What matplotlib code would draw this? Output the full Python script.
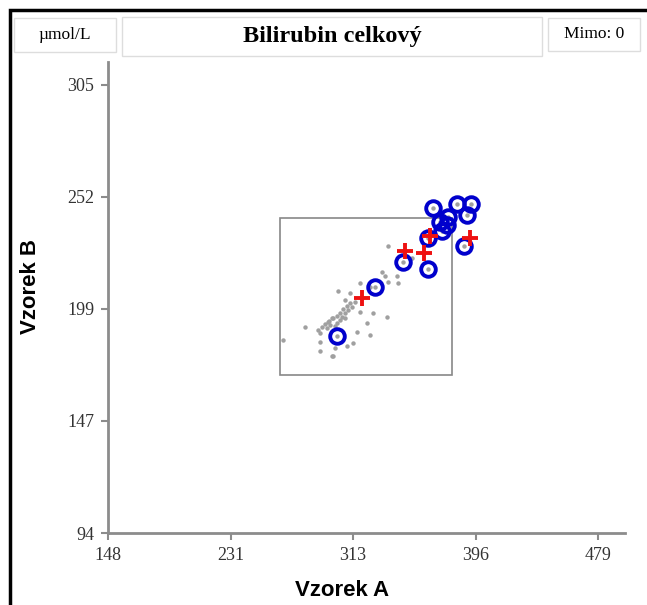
import matplotlib.pyplot as plt
import numpy as np
from matplotlib.patches import Rectangle

# ticks (equally spaced, labels rounded)
x_ticks = np.linspace(148, 479, 5)
x_tick_labels = ["148", "231", "313", "396", "479"]
y_ticks = np.linspace(94, 305, 5)
y_tick_labels = ["94", "147", "199", "252", "305"]

# all results (gray dots)
gray_x = [337.3, 353.1, 332.9, 335.1, 343.0, 337.3, 344.1, 318.2, 325.0, 303.6,
          311.5, 308.1, 314.8, 312.6, 310.3, 308.1, 318.2, 327.2, 336.3, 305.9,
          299.1, 296.8, 302.5, 322.8, 298.0, 295.7, 281.1, 291.2, 316.0, 325.0,
          266.4, 291.2, 309.2, 313.7, 291.2, 301.3, 299.1, 300.0,
          289.9, 292.6, 294.6, 297.3, 300.0, 302.7, 304.8, 306.7, 309.4, 311.5,
          304.8, 308.1, 301.3]
gray_y = [229.2, 223.4, 217.1, 215.0, 215.0, 212.4, 211.9, 211.6, 210.0, 208.1,
          206.9, 203.7, 202.9, 200.6, 199.0, 197.5, 198.2, 197.8, 195.9, 195.9,
          195.1, 193.5, 192.8, 193.1, 192.0, 190.4, 191.2, 188.1, 188.8, 187.3,
          184.9, 184.1, 182.1, 183.3, 179.9, 181.0, 177.4, 177.4,
          189.6, 191.0, 192.4, 193.9, 195.3, 196.2, 197.6, 199.5, 200.9, 202.3,
          194.3, 195.3, 191.5]

# outlying results (blue circles)
circ_x = [367.7, 383.5, 393.2, 390.7, 377.9, 372.3, 376.8, 373.4, 364.0, 388.7,
          347.5, 364.0, 328.4, 302.5]
circ_y = [246.9, 249.0, 249.0, 243.8, 242.7, 240.3, 239.1, 236.4, 232.8, 229.2,
          221.8, 218.2, 209.7, 186.8]

# red crosses
cross_x = [348.6, 361.7, 392.5, 319.4, 365.5]
cross_y = [227.0, 226.0, 232.8, 204.5, 234.0]

# inner box limits
box_x = [264.2, 380.4]
box_y = [168.4, 242.4]

W, H = 647, 605
fig = plt.figure(figsize=(W / 100, H / 100), dpi=100)

# thick black frame (clipped at right/bottom)
fig.add_artist(Rectangle((10 / W, -0.1), 1.2, (H - 10) / H + 0.1,
                         transform=fig.transFigure, fill=False,
                         edgecolor="black", linewidth=2.5))

# header boxes
def header_box(x0, x1, y0, y1, text, **kw):
    fig.add_artist(Rectangle((x0 / W, 1 - y1 / H), (x1 - x0) / W, (y1 - y0) / H,
                             transform=fig.transFigure, fill=True,
                             facecolor="white", edgecolor="#dddddd", linewidth=1))
    fig.text((x0 + x1) / 2 / W, 1 - (y0 + y1) / 2 / H, text,
             ha="center", va="center", family="Liberation Serif", **kw)

header_box(14, 116, 18, 52, "µmol/L", fontsize=12.5)
header_box(122, 542, 17, 56, "Bilirubin celkový", fontsize=17.5, fontweight="bold")
header_box(548, 640, 18, 51, "Mimo: 0", fontsize=12.5)

ax = fig.add_axes([108 / W, (H - 533) / H, (625 - 108) / W, (533 - 62) / H])
ax.set_xlim(148, 497.2)
ax.set_ylim(94, 315.8)

for s in ["top", "right"]:
    ax.spines[s].set_visible(False)
for s in ["left", "bottom"]:
    ax.spines[s].set_color("#8c8c8c")
    ax.spines[s].set_linewidth(2)

ax.set_xticks(x_ticks)
ax.set_xticklabels(x_tick_labels)
ax.set_yticks(y_ticks)
ax.set_yticklabels(y_tick_labels)
ax.tick_params(direction="out", length=5, width=1.5, color="#8c8c8c",
               labelcolor="#333333", labelsize=13, pad=5)
for lab in ax.get_xticklabels() + ax.get_yticklabels():
    lab.set_family("Liberation Serif")

ax.add_patch(Rectangle((box_x[0], box_y[0]), box_x[1] - box_x[0], box_y[1] - box_y[0],
                       fill=False, edgecolor="#888888", linewidth=1.2))

ax.plot(gray_x + circ_x + cross_x, gray_y + circ_y + cross_y, "o",
        color="#a0a0a0", markersize=3.2, markeredgewidth=0)
ax.plot(circ_x, circ_y, "o", markerfacecolor="none", markeredgecolor="#0000cc",
        markersize=10.5, markeredgewidth=2.8)
ax.plot(cross_x, cross_y, "+", color="#ee1111", markersize=11, markeredgewidth=2.8)

fig.text(342 / W, 1 - 591 / H, "Vzorek A", ha="center", va="center",
         family="Liberation Sans", fontsize=16, fontweight="bold")
fig.text(30 / W, 1 - 287 / H, "Vzorek B", ha="center", va="center", rotation=90,
         family="Liberation Sans", fontsize=16, fontweight="bold")

fig.savefig("out.png", dpi=100)
